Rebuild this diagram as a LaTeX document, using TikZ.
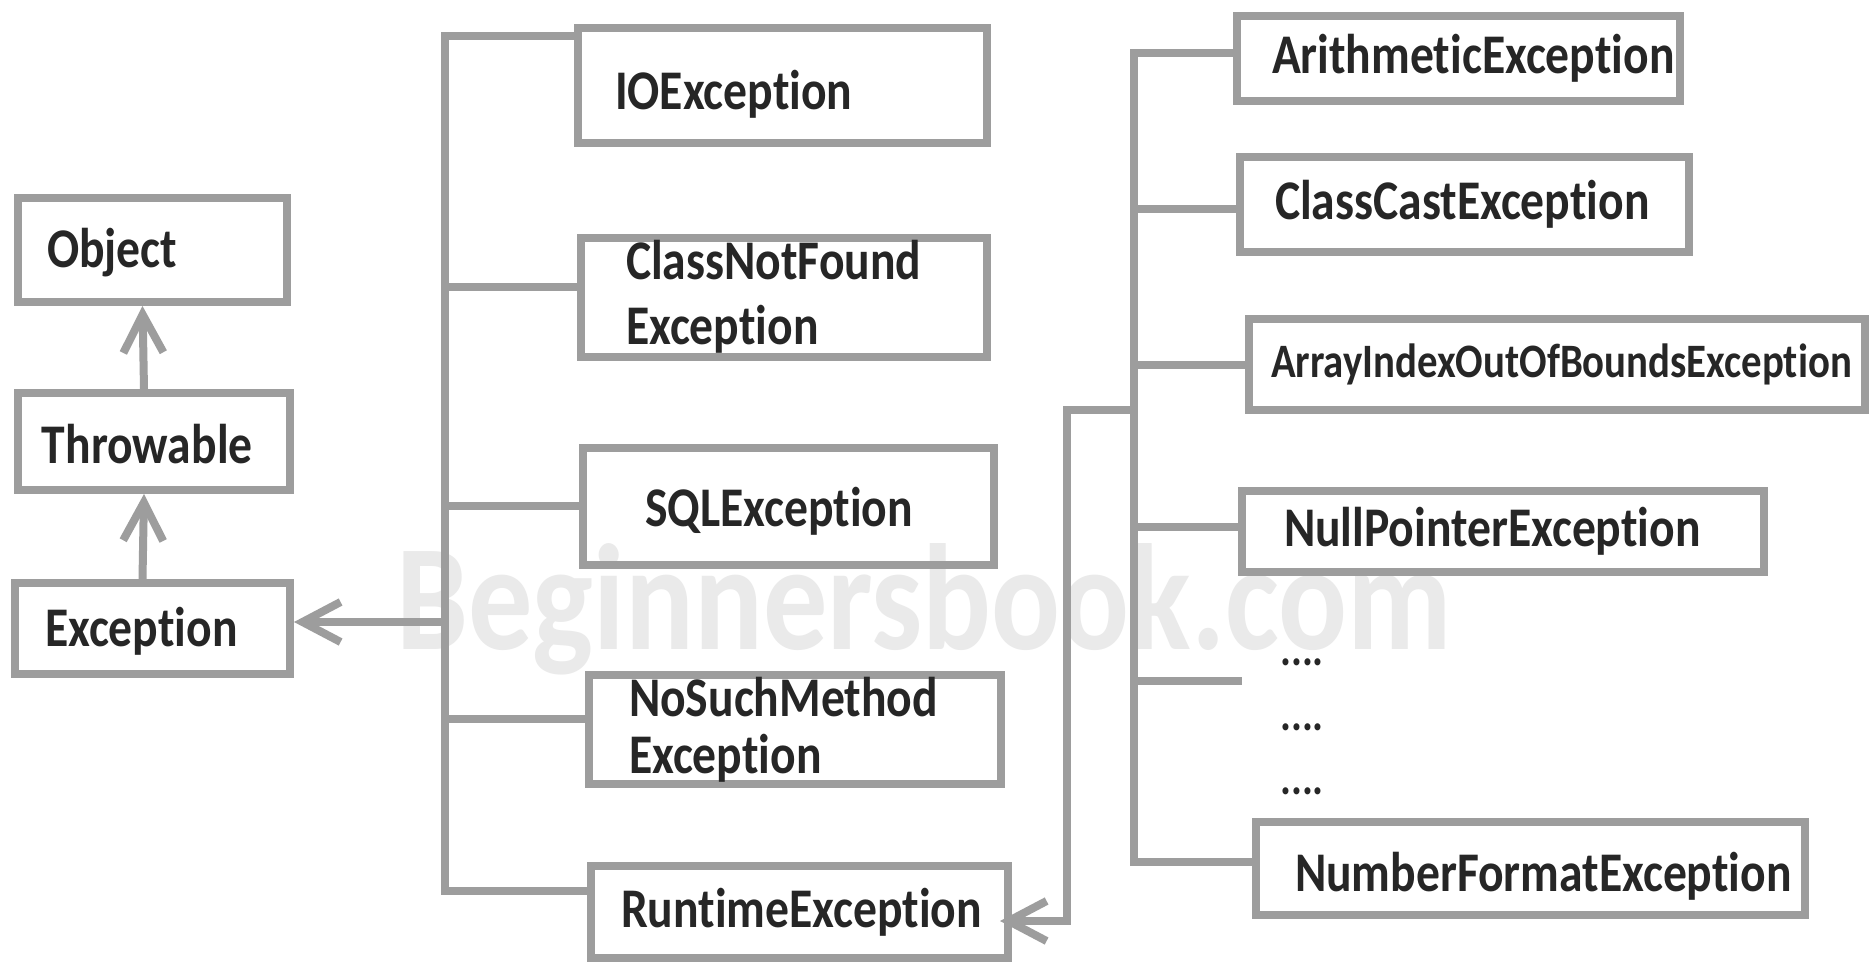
\documentclass[tikz,border=0pt]{standalone}
\usepackage{fontspec}
\usetikzlibrary{arrows.meta}
\newfontfamily\hierfont{Carlito}[FakeStretch=0.85, Ligatures=NoCommon]
\definecolor{edge}{HTML}{9D9D9D}
\definecolor{ink}{HTML}{262626}
\definecolor{wmark}{HTML}{EAEAEA}

\begin{document}
\begin{tikzpicture}[x=1pt, y=-1pt,
    link/.style={draw=edge, line width=8pt},
    arr/.style={link, -{Straight Barb[length=38pt, width=40pt]}},
    cls/.style n args={3}{draw=edge, line width=8pt, inner sep=0pt,
        text width=#1pt, minimum height=#2pt, align=left, text=ink,
        execute at begin node={\leftskip=#3pt},
        font=\hierfont\bfseries\fontsize{56}{65}\selectfont},
    dots/.style={anchor=base west, inner sep=0pt, text=ink,
        font=\hierfont\bfseries\fontsize{48}{52}\selectfont}]
    \fill[white] (0,0) rectangle (1872,963);
    \useasboundingbox (0,0) rectangle (1872,963);

    \node[anchor=base west, inner sep=0pt, text=wmark,
        font=\hierfont\bfseries\fontsize{151}{151}\selectfont] (wm) at (396,649) {Beginnersbook.com};

    % root chain
    \node[cls={269}{104}{29}] (obj) at (152.5,250) {\raisebox{-3pt}[\height][\depth]{Object}};
    \node[cls={272}{97}{24}] (thr) at (154,441.5) {\raisebox{-3pt}[\height][\depth]{Throwable}};
    \node[cls={275}{91}{30}] (exc) at (152.5,628.5) {\raisebox{-3pt}[\height][\depth]{Exception}};
    \draw[arr] ([xshift=-10pt]thr.north) -- ([xshift=-10pt]obj.south);
    \draw[arr] ([xshift=-10pt]exc.north) -- ([xshift=-10pt]thr.south);

    % checked exceptions + RuntimeException
    \node[cls={409}{115}{37}] (io) at (782.5,85.5) {\raisebox{-9pt}[\height][\depth]{IOException}};
    \node[cls={406}{119}{45}] (cnf) at (784,297) {ClassNotFound\\Exception};
    \node[cls={411}{117}{62}] (sql) at (788.5,506.5) {\raisebox{-5pt}[\height][\depth]{SQLException}};
    \node[cls={412}{109}{40}] (nsm) at (795,729.5) {NoSuchMethod\\[-8pt]Exception};
    \node[cls={417}{92}{30}] (rte) at (799.5,912) {RuntimeException};

    \coordinate (t1) at (445,36);
    \coordinate (t2) at (445,287);
    \coordinate (t3) at (445,506);
    \coordinate (t4) at (445,622);
    \coordinate (t5) at (445,719);
    \coordinate (t6) at (445,891);
    \draw[link] (io.west |- t1) -- (t1) -- (t6) -- (rte.west |- t6);
    \foreach \t/\n in {t2/cnf, t3/sql, t5/nsm}
        \draw[link] (\t) -- (\n.west |- \t);
    \draw[arr] (t4) -- (exc.east |- t4);

    % unchecked exceptions
    \node[cls={443}{85}{35}] (ari) at (1458.5,58.5) {ArithmeticException};
    \node[cls={449}{95}{35}] (ccs) at (1464.5,204.5) {ClassCastException};
    \node[cls={616}{91}{22}, font=\hierfont\bfseries\fontsize{48}{54}\selectfont] (aio) at (1557,364.5) {ArrayIndexOutOfBoundsException};
    \node[cls={522}{81}{42}] (npe) at (1503,531.5) {NullPointerException};
    \node[cls={549}{93}{39}] (nfe) at (1530.5,868.5) {\raisebox{-8pt}[\height][\depth]{NumberFormatException}};
    \foreach \i/\y in {1/665, 2/730, 3/794}
        \node[dots] (dot\i) at (1280,\y) {....};

    \coordinate (v1) at (1134,53);
    \coordinate (v2) at (1134,209);
    \coordinate (v3) at (1134,365);
    \coordinate (v0) at (1134,410);
    \coordinate (v4) at (1134,527);
    \coordinate (v5) at (1134,681);
    \coordinate (v6) at (1134,862);
    \coordinate (d0) at (1242,681);
    \coordinate (u1) at (1067,410);
    \coordinate (u2) at (1067,921);
    \draw[link] (ari.west |- v1) -- (v1) -- (v6) -- (nfe.west |- v6);
    \foreach \v/\n in {v2/ccs, v3/aio, v4/npe}
        \draw[link] (\v) -- (\n.west |- \v);
    \draw[link] (v5) -- (d0);
    \draw[arr] (v0) -- (u1) -- (u2) -- ([xshift=-12pt]rte.east |- u2);
\end{tikzpicture}
\end{document}
